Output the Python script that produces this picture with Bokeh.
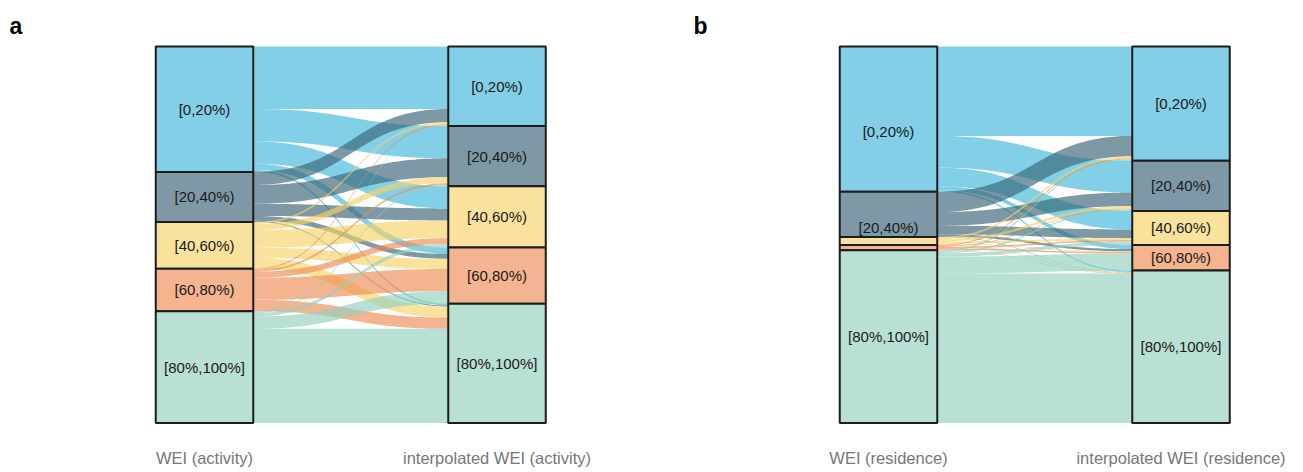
from bokeh.plotting import figure
from bokeh.layouts import row
from bokeh.models import Range1d, Label
from bokeh.embed import file_html
from bokeh.resources import INLINE
from bokeh.core.properties import value
import numpy as np

# WEI classes, top to bottom on each axis
classes = ["[0,20%)", "[20,40%)", "[40,60%)", "[60,80%)", "[80%,100%]"]

# Share of units (%) going from the observed WEI class (rows)
# to the interpolated WEI class (columns)
activity_flows = [
    [16.6, 8.6, 5.9, 1.7, 0.5],
    [3.5, 5.0, 3.2, 1.3, 0.3],
    [0.5, 1.6, 4.7, 2.7, 2.9],
    [0.3, 0.5, 1.6, 5.9, 3.0],
    [0.2, 0.3, 0.9, 3.3, 25.0],
]
residence_flows = [
    [23.7, 8.4, 4.9, 1.1, 0.4],
    [5.4, 3.6, 2.3, 0.6, 0.1],
    [0.5, 0.7, 0.5, 0.2, 0.2],
    [0.3, 0.2, 0.4, 0.4, 0.1],
    [0.4, 0.4, 0.9, 4.5, 39.6],
]

axis_titles_a = ["WEI (activity)", "interpolated WEI (activity)"]
axis_titles_b = ["WEI (residence)", "interpolated WEI (residence)"]

stratum_colors = ["#82CFE7", "#7E99A5", "#F9E29C", "#F4B48F", "#B9E0D4"]
flow_colors = ["#3FB7DC", "#376274", "#F6D267", "#EE8C53", "#93CFBD"]
FLOW_ALPHA = 0.65
FONT = "Liberation Sans"

W = 1 / 3            # stratum width in axis units
PX_PER_UNIT = 292.5  # horizontal pixels per axis step
Y_TOP, Y_BOT = -12.22, 113.15


def sigmoid_band(xa, xb, ya_top, ya_bot, yb_top, yb_bot, n=60):
    t = np.linspace(0, 1, n)
    d = (xb - xa) / 2
    bx = ((1 - t) ** 3) * xa + 3 * ((1 - t) ** 2) * t * (xa + d) \
        + 3 * (1 - t) * t ** 2 * (xb - d) + t ** 3 * xb
    s = 3 * (1 - t) * t ** 2 + t ** 3

    top = ya_top + (yb_top - ya_top) * s
    bot = ya_bot + (yb_bot - ya_bot) * s
    xs = list(bx) + list(bx[::-1])
    ys = list(top) + list(bot[::-1])
    return xs, ys


def alluvial(flows, titles, letter, width, label_nudge=None):
    label_nudge = label_nudge or {}
    m = np.array(flows, dtype=float)
    m = m / m.sum() * 100
    left_tot = m.sum(axis=1)
    right_tot = m.sum(axis=0)
    left_start = np.concatenate([[0], np.cumsum(left_tot)[:-1]])
    right_start = np.concatenate([[0], np.cumsum(right_tot)[:-1]])

    x0 = 1 - 204 / PX_PER_UNIT
    p = figure(width=width, height=472, output_backend="svg", toolbar_location=None,
               x_range=Range1d(x0, x0 + width / PX_PER_UNIT),
               y_range=Range1d(Y_BOT, Y_TOP),
               x_axis_location=None, y_axis_location=None,
               min_border=0, outline_line_color=None, background_fill_color="white")
    p.grid.visible = False

    # flows: left lodes ordered by destination, right lodes ordered by origin
    xs_all, ys_all, cols = [], [], []
    for i in range(5):
        for j in range(5):
            v = m[i, j]
            if v <= 0:
                continue
            ya = left_start[i] + m[i, :j].sum()
            yb = right_start[j] + m[:i, j].sum()
            xs, ys = sigmoid_band(1 + W / 2, 2 - W / 2, ya, ya + v, yb, yb + v)
            xs_all.append(xs)
            ys_all.append(ys)
            cols.append(flow_colors[i])
    p.patches(xs_all, ys_all, fill_color=cols, fill_alpha=FLOW_ALPHA, line_color=None)

    # strata
    for ax, starts, tots in ((1, left_start, left_tot), (2, right_start, right_tot)):
        p.quad(left=[ax - W / 2] * 5, right=[ax + W / 2] * 5,
               top=list(starts), bottom=list(starts + tots),
               fill_color=stratum_colors, line_color="#1c1c1c", line_width=2)
        lx, ly, lt = [], [], []
        for k in range(5):
            if tots[k] < 4:
                continue
            lx.append(ax)
            ly.append(starts[k] + tots[k] / 2 + label_nudge.get((ax, k), 0))
            lt.append(classes[k])
        p.text(x=lx, y=ly, text=lt, text_align="center", text_baseline="middle",
               text_font=value(FONT), text_font_size="15px", text_color="#1a1a1a")

    p.text(x=[1, 2], y=[109.2, 109.2], text=titles, text_align="center",
           text_baseline="middle", text_font=value(FONT), text_font_size="16.5px",
           text_color="#777777")

    p.add_layout(Label(x=9, y=447, x_units="screen", y_units="screen", text=letter,
                       text_font=FONT, text_font_size="23px", text_font_style="bold",
                       text_color="black", text_baseline="alphabetic"))
    return p


pa = alluvial(activity_flows, axis_titles_a, "a", 684)
pb = alluvial(residence_flows, axis_titles_b, "b", 619,
              label_nudge={(1, 0): 3.4, (1, 1): 3.4})

layout = row(pa, pb, spacing=0)
open("out.html", "w").write(file_html(layout, INLINE))
